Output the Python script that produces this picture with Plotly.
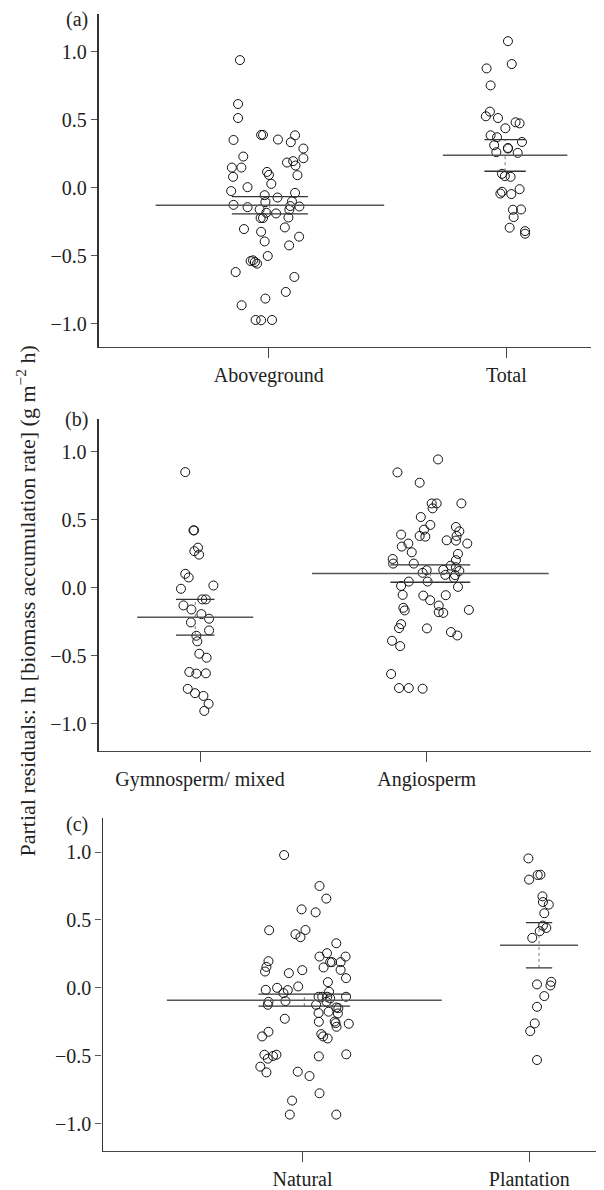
import plotly.graph_objects as go

# ---------------- data ----------------
cats_a = ["Aboveground", "Total"]
cats_b = ["Gymnosperm/ mixed", "Angiosperm"]
cats_c = ["Natural", "Plantation"]

# jitter offsets (category units) and partial residuals
above_dx = [-0.121, -0.129, -0.129, -0.032, -0.024, 0.111, -0.148, 0.039, 0.093, 0.146,
            -0.107, 0.146, 0.077, 0.103, 0.113, -0.155, -0.115, -0.007, 0.001, -0.150,
            0.121, 0.011, -0.089, -0.158, 0.111, -0.017, 0.037, -0.014, 0.098, -0.148,
            -0.089, 0.091, 0.129, -0.038, 0.087, -0.010, 0.031, -0.034, -0.024, 0.083,
            -0.104, 0.068, -0.032, 0.128, -0.017, 0.086, -0.004, -0.076, -0.066, -0.058,
            -0.049, -0.139, 0.108, 0.072, -0.014, -0.114, -0.055, -0.032, 0.014]
above_y = [0.939, 0.616, 0.513, 0.389, 0.389, 0.386, 0.352, 0.355, 0.335, 0.289,
           0.230, 0.218, 0.186, 0.196, 0.164, 0.149, 0.149, 0.117, 0.095, 0.081,
           0.093, 0.029, 0.005, -0.024, -0.037, -0.054, -0.071, -0.105, -0.100, -0.125,
           -0.142, -0.134, -0.137, -0.159, -0.161, -0.183, -0.188, -0.222, -0.222, -0.218,
           -0.303, -0.291, -0.323, -0.359, -0.394, -0.423, -0.501, -0.538, -0.533, -0.545,
           -0.557, -0.619, -0.655, -0.765, -0.814, -0.863, -0.971, -0.973, -0.971]

total_dx = [0.007, 0.023, -0.083, -0.066, -0.069, -0.086, -0.035, 0.039, 0.056, -0.004,
            -0.066, -0.039, 0.066, -0.051, 0.007, 0.007, -0.042, 0.048, -0.018, -0.006,
            0.018, 0.056, -0.018, -0.025, 0.021, 0.028, 0.062, 0.031, 0.014, 0.079, 0.079]
total_y = [1.078, 0.910, 0.878, 0.753, 0.560, 0.526, 0.513, 0.482, 0.474, 0.438,
           0.386, 0.372, 0.337, 0.313, 0.293, 0.289, 0.262, 0.257, 0.103, 0.086,
           0.081, -0.010, -0.029, -0.042, -0.046, -0.161, -0.159, -0.215, -0.293, -0.318, -0.337]

gymno_dx = [-0.065, -0.029, -0.026, -0.009, -0.025, -0.004, -0.065, -0.050, -0.084, 0.059,
            0.010, 0.026, -0.073, -0.038, 0.006, 0.040, -0.040, 0.040, -0.016, -0.012,
            -0.003, 0.029, -0.047, -0.016, 0.026, -0.054, -0.022, 0.015, 0.038, 0.019]
gymno_y = [0.850, 0.422, 0.422, 0.295, 0.269, 0.244, 0.103, 0.076, -0.007, 0.017,
           -0.085, -0.085, -0.129, -0.159, -0.193, -0.227, -0.254, -0.313, -0.352, -0.393,
           -0.484, -0.513, -0.618, -0.630, -0.628, -0.742, -0.774, -0.794, -0.852, -0.904]

angio_dx = [0.050, -0.129, -0.031, 0.022, 0.044, 0.026, 0.153, -0.026, 0.016, -0.012,
            0.129, 0.144, -0.113, -0.031, -0.006, 0.132, 0.088, 0.129, -0.081, 0.179,
            -0.110, -0.066, 0.138, -0.150, 0.129, -0.148, -0.057, 0.106, 0.129, 0.073,
            0.144, 0.000, -0.018, 0.082, 0.125, 0.120, -0.079, 0.004, -0.113, 0.138,
            -0.106, -0.015, 0.084, 0.015, 0.053, -0.103, -0.097, 0.053, 0.073, 0.186,
            -0.113, -0.122, 0.001, 0.107, 0.135, -0.153, -0.117, -0.157, -0.122, -0.079, -0.018]
angio_y = [0.943, 0.848, 0.772, 0.620, 0.620, 0.584, 0.620, 0.520, 0.462, 0.427,
           0.447, 0.415, 0.391, 0.381, 0.376, 0.381, 0.349, 0.347, 0.325, 0.325,
           0.303, 0.261, 0.249, 0.212, 0.203, 0.178, 0.178, 0.163, 0.151, 0.132,
           0.124, 0.129, 0.110, 0.095, 0.093, 0.073, 0.046, 0.046, 0.014, 0.007,
           -0.052, -0.057, -0.054, -0.091, -0.130, -0.147, -0.166, -0.179, -0.184, -0.162,
           -0.267, -0.296, -0.298, -0.325, -0.350, -0.389, -0.428, -0.633, -0.736, -0.736, -0.741]

natural_dx = [-0.081, 0.075, 0.105, -0.004, 0.058, -0.147, -0.031, -0.009, 0.013, 0.149,
              0.108, 0.075, 0.190, 0.122, 0.130, 0.168, -0.150, -0.159, -0.165, 0.093,
              0.168, -0.060, -0.001, 0.192, 0.112, -0.019, -0.112, -0.162, -0.065, -0.084,
              0.117, -0.075, 0.071, 0.087, 0.109, 0.122, 0.192, 0.106, -0.150, -0.153,
              0.060, 0.149, 0.158, 0.115, 0.156, 0.071, -0.078, 0.142, 0.146, 0.150,
              0.204, 0.072, -0.150, -0.178, 0.083, 0.091, 0.111, -0.168, -0.130, -0.115,
              -0.153, 0.072, 0.193, -0.186, -0.159, -0.021, 0.031, 0.075, -0.046, -0.056, 0.149]
natural_y = [0.978, 0.750, 0.657, 0.578, 0.556, 0.424, 0.395, 0.373, 0.426, 0.328,
             0.255, 0.230, 0.230, 0.189, 0.189, 0.189, 0.196, 0.154, 0.120, 0.150,
             0.132, 0.108, 0.130, 0.071, 0.042, 0.010, 0.000, -0.015, -0.017, -0.039,
             -0.029, -0.098, -0.066, -0.066, -0.066, -0.078, -0.066, -0.103, -0.103, -0.125,
             -0.125, -0.145, -0.150, -0.176, -0.189, -0.186, -0.228, -0.248, -0.260, -0.287,
             -0.265, -0.250, -0.324, -0.358, -0.341, -0.358, -0.373, -0.493, -0.502, -0.493,
             -0.522, -0.505, -0.490, -0.581, -0.623, -0.618, -0.650, -0.777, -0.831, -0.934, -0.934]

plant_dx = [-0.004, -0.001, 0.037, 0.049, 0.058, 0.060, 0.086, 0.066, 0.060, 0.075,
            0.046, 0.013, 0.097, 0.093, 0.034, 0.066, 0.034, 0.024, 0.004, 0.034]
plant_y = [0.953, 0.797, 0.831, 0.833, 0.674, 0.632, 0.613, 0.549, 0.458, 0.441,
           0.417, 0.368, 0.044, 0.017, 0.025, -0.061, -0.140, -0.262, -0.319, -0.532]

# group means and 95% CI bounds
means_a = [-0.128, 0.239]
ci_lo_a = [-0.191, 0.122]
ci_hi_a = [-0.064, 0.354]
means_b = [-0.217, 0.105]
ci_lo_b = [-0.347, 0.041]
ci_hi_b = [-0.085, 0.168]
means_c = [-0.091, 0.313]
ci_lo_c = [-0.135, 0.147]
ci_hi_c = [-0.047, 0.480]

y_ticks = [-1.0, -0.5, 0.0, 0.5, 1.0]

# ---------------- style / layout (page pixels) ----------------
PAGE_W, PAGE_H = 604, 1190
OFF = 8                      # default page body margin
W, H = PAGE_W - OFF, PAGE_H - OFF
FONT = "Liberation Serif"
INK = "#222222"


def fx(px):
    return (px - OFF) / W


def fy(py):
    return 1 - (py - OFF) / H


panels = [
    dict(label="(a)", cats=cats_a, groups=[(above_dx, above_y), (total_dx, total_y)],
         means=means_a, lo=ci_lo_a, hi=ci_hi_a,
         centers=[0.005, 0.995], mean_hw=[0.481, 0.262], ci_hw=[0.160, 0.087],
         left=98.7, right=591, top=14, bottom=348, tick0=268.7, tick1=506.3,
         zero=188.3, unit=136.4, label_y=20, ylw=1.8),
    dict(label="(b)", cats=cats_b, groups=[(gymno_dx, gymno_y), (angio_dx, angio_y)],
         means=means_b, lo=ci_lo_b, hi=ci_hi_b,
         centers=[-0.021, 1.016], mean_hw=[0.256, 0.522], ci_hw=[0.085, 0.176],
         left=98.5, right=591, top=420, bottom=752.7, tick0=200.0, tick1=426.7,
         zero=589.3, unit=136.5, label_y=421, ylw=1.8),
    dict(label="(c)", cats=cats_c, groups=[(natural_dx, natural_y), (plant_dx, plant_y)],
         means=means_c, lo=ci_lo_c, hi=ci_hi_c,
         centers=[0.008, 1.043], mean_hw=[0.606, 0.172], ci_hw=[0.202, 0.058],
         left=102.5, right=600, top=820, bottom=1154, tick0=302.5, tick1=529.3,
         zero=990.3, unit=136.1, label_y=826.7, ylw=1.3),
]

fig = go.Figure()
layout = dict(
    width=W, height=H,
    margin=dict(l=0, r=0, t=0, b=0),
    paper_bgcolor="white", plot_bgcolor="white",
    showlegend=False,
    font=dict(family=FONT, size=20, color=INK),
    annotations=[],
)

for i, p in enumerate(panels):
    n = "" if i == 0 else str(i + 1)
    xa, ya = "x" + n, "y" + n
    sp = p["tick1"] - p["tick0"]
    xr = [(p["left"] - p["tick0"]) / sp, (p["right"] - p["tick0"]) / sp]
    yr = [(p["zero"] - p["bottom"]) / p["unit"], (p["zero"] - p["top"]) / p["unit"]]

    for k, (dx, yv) in enumerate(p["groups"]):
        fig.add_trace(go.Scatter(
            x=[k + d for d in dx], y=yv, mode="markers", xaxis=xa, yaxis=ya,
            marker=dict(symbol="circle-open", size=9, color="#111111",
                        line=dict(width=1, color="#111111")),
            hoverinfo="skip"))
    for k in range(2):
        c = p["centers"][k]
        m, lo, hi = p["means"][k], p["lo"][k], p["hi"][k]
        mh, ch = p["mean_hw"][k], p["ci_hw"][k]
        fig.add_trace(go.Scatter(x=[c, c], y=[lo, hi], mode="lines", xaxis=xa, yaxis=ya,
                                 line=dict(color="#777777", width=1, dash="dot"),
                                 hoverinfo="skip"))
        fig.add_trace(go.Scatter(x=[c - mh, c + mh], y=[m, m], mode="lines", xaxis=xa, yaxis=ya,
                                 line=dict(color="#555555", width=1.5), hoverinfo="skip"))
        for v in (lo, hi):
            fig.add_trace(go.Scatter(x=[c - ch, c + ch], y=[v, v], mode="lines",
                                     xaxis=xa, yaxis=ya,
                                     line=dict(color="#333333", width=1.3), hoverinfo="skip"))

    layout["xaxis" + n] = dict(
        domain=[fx(p["left"]), fx(p["right"])], anchor=ya, range=xr,
        tickmode="array", tickvals=[0, 1], ticktext=p["cats"],
        showline=True, linecolor="#444444", linewidth=1.3,
        ticks="outside", ticklen=10, tickwidth=1.3, tickcolor="#444444",
        showgrid=False, zeroline=False,
        tickfont=dict(family=FONT, size=20, color=INK),
    )
    layout["yaxis" + n] = dict(
        domain=[fy(p["bottom"]), fy(p["top"])], anchor=xa, range=yr,
        tickmode="array", tickvals=y_ticks,
        ticktext=[f"{t:.1f}".replace("-", "\u2212") for t in y_ticks],
        showline=True, linecolor="#333333", linewidth=p["ylw"],
        ticks="outside", ticklen=6, tickwidth=1.2, tickcolor="#555555",
        showgrid=False, zeroline=False,
        tickfont=dict(family=FONT, size=20, color=INK),
    )
    layout["annotations"].append(dict(
        text=p["label"], xref="paper", yref="paper",
        x=fx(90), y=fy(p["label_y"]), xanchor="right", yanchor="middle",
        showarrow=False, font=dict(family=FONT, size=20, color=INK)))

layout["annotations"].append(dict(
    text="Partial residuals: ln [biomass accumulation rate] (g m<sup>\u22122</sup> h)",
    xref="paper", yref="paper", x=fx(26), y=fy(603),
    xanchor="center", yanchor="middle", textangle=-90, showarrow=False,
    font=dict(family=FONT, size=22, color=INK)))

fig.update_layout(**layout)
fig.write_html("out.html")
